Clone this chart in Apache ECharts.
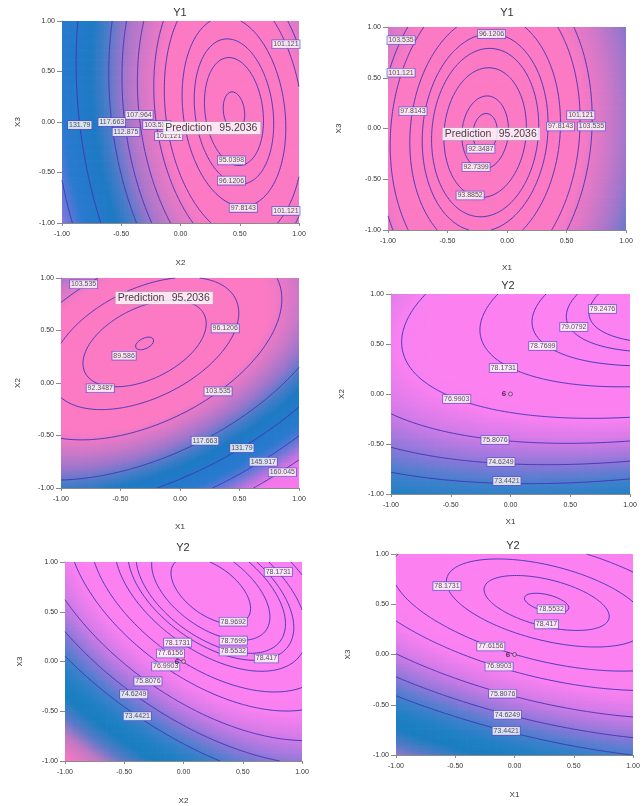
<!DOCTYPE html>
<html><head><meta charset="utf-8">
<script src="https://cdn.jsdelivr.net/npm/echarts@6/dist/echarts.min.js"></script>
<style>html,body{margin:0;padding:0;background:#fff}#c{width:644px;height:806px}</style>
</head><body><div id="c"></div>
<script>
// ---------------- DATA ----------------
const tickValues = [-1, -0.5, 0, 0.5, 1];

// Panel 1: Y1 over X2 (horizontal) and X3 (vertical)
const p1Readings = [[0.89,0.77,101.121],[-0.35,0.07,107.964],[-0.85,-0.03,131.79],[-0.58,0.0,117.663],[-0.2,-0.03,103.535],[-0.46,-0.1,112.875],[-0.1,-0.14,101.121],[0.43,-0.38,95.0398],[0.43,-0.58,96.1206],[0.53,-0.85,97.8143],[0.89,-0.88,101.121],[0.45,0.6,95.0398],[0.45,0.82,96.1206],[0.45,0.32,93.8852],[0.45,-0.11,93.8852],[0.34,0.1,93.8852],[0.56,0.1,93.8852]];
const p1Levels = [93.8852,95.0398,96.1206,97.8143,101.121,103.535,107.964,112.875,117.663,131.79,145.917];
const p1Labels = [[0.89,0.77,'101.121'],[-0.35,0.07,'107.964'],[-0.85,-0.03,'131.79'],[-0.58,0.0,'117.663'],[-0.2,-0.03,'103.535'],[-0.46,-0.1,'112.875'],[-0.1,-0.14,'101.121'],[0.43,-0.38,'95.0398'],[0.43,-0.58,'96.1206'],[0.53,-0.85,'97.8143'],[0.89,-0.88,'101.121']];
const p1Flag = [-0.145,-0.06,'95.2036'];

// Panel 2: Y1 over X1 and X3
const p2Readings = [[-0.22,-0.2,92.3487],[-0.26,-0.38,92.7399],[-0.31,-0.66,93.8852],[-0.13,0.93,96.1206],[-0.79,0.17,97.8143],[0.45,0.02,97.8143],[-0.89,0.55,101.121],[0.62,0.13,101.121],[-0.89,0.87,103.535],[0.71,0.02,103.535],[-0.18,0.13,92.3487],[-0.18,0.33,92.7399],[-0.18,0.6,93.8852]];
const p2Levels = [92.3487,92.7399,93.8852,95.0398,96.1206,97.8143,101.121,103.535];
const p2Labels = [[-0.89,0.87,'103.535'],[-0.13,0.93,'96.1206'],[-0.89,0.55,'101.121'],[-0.79,0.17,'97.8143'],[0.62,0.13,'101.121'],[0.45,0.02,'97.8143'],[0.71,0.02,'103.535'],[-0.22,-0.2,'92.3487'],[-0.26,-0.38,'92.7399'],[-0.31,-0.66,'93.8852']];
const p2Flag = [-0.54,-0.055,'95.2036'];

// Panel 3: Y1 over X1 and X2
const p3Readings = [[-0.47,0.26,89.586],[-0.45,0.27,89.586],[-0.25,0.33,89.586],[-0.35,0.37,89.586],[-0.36,0.2,89.586],[-0.67,-0.05,92.3487],[-0.85,0.15,92.3487],[0.07,0.45,92.3487],[-0.3,0.64,92.3487],[-0.45,-0.08,92.3487],[0.38,0.52,96.1206],[0.32,-0.08,103.535],[-0.81,0.94,103.535],[0.21,-0.55,117.663],[0.52,-0.62,131.79],[0.7,-0.75,145.917],[0.86,-0.85,160.045],[-1,-0.3,103.535],[1,0.75,103.535],[-1,-0.93,117.663],[1,0.18,117.663],[-0.25,-1,131.79],[1,-0.15,131.79],[0.3,-1,145.917],[1,-0.45,145.917],[0.68,-1,160.045],[1,-0.72,160.045]];
const p3Levels = [89.586,92.3487,96.1206,103.535,117.663,131.79,145.917,160.045];
const p3Labels = [[-0.81,0.94,'103.535'],[0.38,0.52,'96.1206'],[-0.47,0.26,'89.586'],[-0.67,-0.05,'92.3487'],[0.32,-0.08,'103.535'],[0.21,-0.55,'117.663'],[0.52,-0.62,'131.79'],[0.7,-0.75,'145.917'],[0.86,-0.85,'160.045']];
const p3Flag = [-0.54,0.81,'95.2036'];

// Panel 4: Y2 over X1 and X2
const p4Readings = [[0.77,0.85,79.2476],[1.0,0.58,79.2476],[0.85,1.0,79.2476],[0.53,0.67,79.0792],[1.0,0.45,79.0792],[0.5,1.0,79.0792],[0.27,0.48,78.7699],[1.0,0.3,78.7699],[0.2,1.0,78.7699],[-0.06,0.26,78.1731],[1.0,0.05,78.1731],[-0.19,1.0,78.1731],[-0.45,-0.05,76.9903],[1.0,-0.25,76.9903],[-0.68,1.0,76.9903],[-0.8,0.43,76.9903],[-0.13,-0.46,75.8076],[1.0,-0.48,75.8076],[-1,-0.2,75.8076],[-0.08,-0.68,74.6249],[1,-0.67,74.6249],[-1,-0.55,74.6249],[-0.03,-0.87,73.4421],[1,-0.85,73.4421],[-1,-0.8,73.4421]];
const p4Levels = [73.4421,74.6249,75.8076,76.9903,78.1731,78.7699,79.0792,79.2476];
const p4Labels = [[0.77,0.85,'79.2476'],[0.53,0.67,'79.0792'],[0.27,0.48,'78.7699'],[-0.06,0.26,'78.1731'],[-0.45,-0.05,'76.9903'],[-0.13,-0.46,'75.8076'],[-0.08,-0.68,'74.6249'],[-0.03,-0.87,'73.4421']];

// Panel 5: Y2 over X2 and X3
const p5Readings = [[0.8,0.9,78.1731],[0.42,0.21,78.7699],[0.42,0.1,78.5532],[0.7,0.03,78.417],[-0.05,0.19,78.1731],[-0.11,0.08,77.6156],[-0.15,-0.05,76.9903],[-0.3,-0.2,75.8076],[-0.42,-0.33,74.6249],[-0.39,-0.55,73.4421],[0.39,0.41,78.9692],[0.56,0.41,78.9692],[0.47,0.47,78.9692],[0.47,0.34,78.9692]];
const p5Levels = [73.4421,74.6249,75.8076,76.9903,77.6156,78.1731,78.417,78.5532,78.7699,78.9692];
const p5Labels = [[0.8,0.9,'78.1731'],[0.42,0.4,'78.9692'],[0.42,0.21,'78.7699'],[-0.05,0.19,'78.1731'],[0.42,0.1,'78.5532'],[-0.11,0.08,'77.6156'],[0.7,0.03,'78.417'],[-0.15,-0.05,'76.9903'],[-0.3,-0.2,'75.8076'],[-0.42,-0.33,'74.6249'],[-0.39,-0.55,'73.4421']];

// Panel 6: Y2 over X1 and X3
const p6Readings = [[-0.57,0.68,78.1731],[0.31,0.45,78.5532],[0.27,0.3,78.417],[-0.2,0.08,77.6156],[-0.13,-0.12,76.9903],[-0.1,-0.39,75.8076],[-0.06,-0.6,74.6249],[-0.07,-0.76,73.4421],[0.09,0.5,78.5532],[0.47,0.44,78.5532],[0.28,0.59,78.5532],[0.28,0.37,78.5532]];
const p6Levels = [73.4421,74.6249,75.8076,76.9903,77.6156,78.1731,78.417,78.5532];
const p6Labels = [[-0.57,0.68,'78.1731'],[0.31,0.45,'78.5532'],[0.27,0.3,'78.417'],[-0.2,0.08,'77.6156'],[-0.13,-0.12,'76.9903'],[-0.1,-0.39,'75.8076'],[-0.06,-0.6,'74.6249'],[-0.07,-0.76,'73.4421']];

const designPoint = [0, 0, '6'];

// ---------------- STYLE ----------------
const Y1_STOPS = [[80,'#fc7ac4'],[101,'#fc7ac4'],[107,'#d078c8'],[113,'#9a76cc'],[119,'#4a7cc8'],[125,'#1e7ac4'],[140,'#2a7ad0'],[148,'#6a78d8'],[155,'#b874e0'],[162,'#f078e8'],[175,'#f878ea']];
const Y2_STOPS = [[60,'#f878c0'],[66,'#f878c0'],[68,'#c078c4'],[69.5,'#5a7ac8'],[71,'#1a7ec0'],[72.2,'#2080c4'],[73.4,'#4080cc'],[74.6,'#8878d8'],[75.8,'#cc7ae6'],[76.9,'#f880f0'],[77.6,'#fc80f0'],[82,'#fc82f2']];
const LINE_COLOR = '#4536b4';
const FONT = 'Liberation Sans, Arial, sans-serif';

const panels = [
  {title:'Y1', xName:'X2', yName:'X3', readings:p1Readings, levels:p1Levels, labels:p1Labels, flag:p1Flag, stops:Y1_STOPS, grid:{left:62,top:21,width:237,height:202}, titlePos:[180,13], xGap:36, yGap:40},
  {title:'Y1', xName:'X1', yName:'X3', readings:p2Readings, levels:p2Levels, labels:p2Labels, flag:p2Flag, stops:Y1_STOPS, grid:{left:388,top:27,width:238,height:203}, titlePos:[507,13], xGap:34, yGap:45},
  {title:'', xName:'X1', yName:'X2', readings:p3Readings, levels:p3Levels, labels:p3Labels, flag:p3Flag, stops:Y1_STOPS, grid:{left:61,top:278,width:238,height:210}, titlePos:null, xGap:35, yGap:39, weighted:true},
  {title:'Y2', xName:'X1', yName:'X2', readings:p4Readings, levels:p4Levels, labels:p4Labels, flag:null, design:true, stops:Y2_STOPS, grid:{left:391,top:294,width:239,height:200}, titlePos:[508,286], xGap:24, yGap:45},
  {title:'Y2', xName:'X2', yName:'X3', readings:p5Readings, levels:p5Levels, labels:p5Labels, flag:null, design:true, stops:Y2_STOPS, grid:{left:65,top:562,width:237,height:200}, titlePos:[183,548], xGap:36, yGap:41},
  {title:'Y2', xName:'X1', yName:'X3', readings:p6Readings, levels:p6Levels, labels:p6Labels, flag:null, design:true, stops:Y2_STOPS, grid:{left:396,top:554,width:237,height:201}, titlePos:[513,546], xGap:36, yGap:44}
];

// ---------------- helpers ----------------
// least-squares quadratic response surface through the contour readings
function fitQuad(pts, weighted){
  const n=6, A=[], B=new Array(n).fill(0);
  const vmin=Math.min(...pts.map(p=>p[2]));
  for(let i=0;i<n;i++) A.push(new Array(n).fill(0));
  pts.forEach(([x,y,v])=>{
    const w=weighted?1/(v-vmin+2):1;
    const r=[1,x,y,x*x,y*y,x*y];
    for(let i=0;i<n;i++){B[i]+=w*r[i]*v;for(let k=0;k<n;k++)A[i][k]+=w*r[i]*r[k];}
  });
  for(let i=0;i<n;i++) A[i][i]+=1e-7;
  for(let c=0;c<n;c++){
    let p=c;for(let r=c+1;r<n;r++) if(Math.abs(A[r][c])>Math.abs(A[p][c])) p=r;
    [A[c],A[p]]=[A[p],A[c]];[B[c],B[p]]=[B[p],B[c]];
    for(let r=c+1;r<n;r++){const f=A[r][c]/A[c][c];for(let k=c;k<n;k++)A[r][k]-=f*A[c][k];B[r]-=f*B[c];}
  }
  const s=new Array(n).fill(0);
  for(let i=n-1;i>=0;i--){let t=B[i];for(let k=i+1;k<n;k++)t-=A[i][k]*s[k];s[i]=t/A[i][i];}
  return (x,y)=>s[0]+s[1]*x+s[2]*y+s[3]*x*x+s[4]*y*y+s[5]*x*y;
}
function hex(c){return [parseInt(c.slice(1,3),16),parseInt(c.slice(3,5),16),parseInt(c.slice(5,7),16)];}
function colorOf(stops,v){
  if(v<=stops[0][0]) return stops[0][1];
  for(let i=1;i<stops.length;i++){
    if(v<=stops[i][0]){
      const t=(v-stops[i-1][0])/(stops[i][0]-stops[i-1][0]);
      const a=hex(stops[i-1][1]), b=hex(stops[i][1]);
      return 'rgb('+a.map((q,k)=>Math.round(q+(b[k]-q)*t)).join(',')+')';
    }
  }
  return stops[stops.length-1][1];
}
// marching squares, chained into polylines via shared edge ids
function contourPaths(f,levels,n){
  const xs=[];for(let i=0;i<=n;i++) xs.push(-1+2*i/n);
  const V=[];for(let j=0;j<=n;j++){V.push([]);for(let i=0;i<=n;i++)V[j].push(f(xs[i],xs[j]));}
  const paths=[];
  levels.forEach(L=>{
    const pts=new Map();
    const hId=(i,j)=>{const id='h'+i+'_'+j;if(!pts.has(id)){const a=V[j][i],b=V[j][i+1];if((a<L)===(b<L))return null;const t=(L-a)/(b-a);pts.set(id,[xs[i]+t*(xs[i+1]-xs[i]),xs[j]]);}return id;};
    const vId=(i,j)=>{const id='v'+i+'_'+j;if(!pts.has(id)){const a=V[j][i],b=V[j+1][i];if((a<L)===(b<L))return null;const t=(L-a)/(b-a);pts.set(id,[xs[i],xs[j]+t*(xs[j+1]-xs[j])]);}return id;};
    const segs=[];
    for(let j=0;j<n;j++)for(let i=0;i<n;i++){
      const ids=[hId(i,j),vId(i+1,j),hId(i,j+1),vId(i,j)].filter(Boolean);
      if(ids.length===2) segs.push(ids);
      else if(ids.length===4){segs.push([ids[0],ids[1]]);segs.push([ids[2],ids[3]]);}
    }
    const adj=new Map();
    segs.forEach((s,k)=>s.forEach(id=>{if(!adj.has(id))adj.set(id,[]);adj.get(id).push(k);}));
    const used=new Array(segs.length).fill(false);
    const next=(id)=>{const l=adj.get(id)||[];for(const k of l){if(!used[k]){used[k]=true;const s=segs[k];return s[0]===id?s[1]:s[0];}}return null;};
    for(let k=0;k<segs.length;k++){
      if(used[k]) continue;
      used[k]=true;
      const chain=[segs[k][0],segs[k][1]];
      let nx;
      while((nx=next(chain[chain.length-1]))!==null) chain.push(nx);
      while((nx=next(chain[0]))!==null) chain.unshift(nx);
      paths.push({coords:chain.map(id=>pts.get(id))});
    }
  });
  return paths;
}

// ---------------- build option ----------------
const grids=[],xAxes=[],yAxes=[],series=[],graphics=[];
const N=90, H=1/N;
panels.forEach((p,k)=>{
  const f=fitQuad(p.readings,p.weighted);
  grids.push(Object.assign({containLabel:false,show:false},p.grid));
  xAxes.push({gridIndex:k,type:'value',min:-1,max:1,interval:0.5,name:p.xName,nameLocation:'middle',nameGap:p.xGap,
    nameTextStyle:{fontSize:8,color:'#333',fontFamily:FONT},axisPointer:{show:false},
    axisLine:{show:true,onZero:false,lineStyle:{color:'#8a8a8a',width:1}},axisTick:{show:true,length:3,lineStyle:{color:'#8a8a8a'}},
    splitLine:{show:false},axisLabel:{fontSize:7,color:'#333',margin:8,fontFamily:FONT,formatter:v=>v.toFixed(2)}});
  yAxes.push({gridIndex:k,type:'value',min:-1,max:1,interval:0.5,name:p.yName,nameLocation:'middle',nameGap:p.yGap,nameRotate:90,
    nameTextStyle:{fontSize:8,color:'#333',fontFamily:FONT},axisPointer:{show:false},
    axisLine:{show:true,onZero:false,lineStyle:{color:'#8a8a8a',width:1}},axisTick:{show:true,length:5,lineStyle:{color:'#8a8a8a'}},
    splitLine:{show:false},axisLabel:{fontSize:7,color:'#333',margin:7,fontFamily:FONT,formatter:v=>v.toFixed(2)}});
  const cells=[];
  for(let j=0;j<N;j++)for(let i=0;i<N;i++){const x=-1+(2*i+1)/N,y=-1+(2*j+1)/N;cells.push([x,y,f(x,y)]);}
  const stops=p.stops;
  series.push({type:'custom',xAxisIndex:k,yAxisIndex:k,clip:true,z:1,silent:true,progressive:0,progressiveThreshold:1e9,data:cells,
    renderItem:(params,api)=>{
      const x=api.value(0),y=api.value(1),v=api.value(2);
      const a=api.coord([x-H,y+H]),b=api.coord([x+H,y-H]);
      return {type:'rect',shape:{x:a[0],y:a[1],width:b[0]-a[0]+0.7,height:b[1]-a[1]+0.7},style:{fill:colorOf(stops,v)}};
    }});
  series.push({type:'lines',coordinateSystem:'cartesian2d',xAxisIndex:k,yAxisIndex:k,z:3,silent:true,polyline:true,large:false,
    progressive:0,symbol:['none','none'],
    lineStyle:{color:LINE_COLOR,width:1,opacity:0.95},data:contourPaths(f,p.levels,120)});
  series.push({type:'scatter',xAxisIndex:k,yAxisIndex:k,z:5,silent:true,symbolSize:0.1,itemStyle:{color:'rgba(0,0,0,0)'},
    data:p.labels.map(l=>({value:[l[0],l[1]],name:l[2]})),
    label:{show:true,position:'inside',formatter:'{b}',fontSize:7,color:'#2a2a2a',fontFamily:FONT,backgroundColor:'#ffffff',
      borderColor:'#5a4cc8',borderWidth:0.8,padding:[1,1,0,1]}});
  if(p.flag){
    series.push({type:'scatter',xAxisIndex:k,yAxisIndex:k,z:8,silent:true,symbolSize:0.1,itemStyle:{color:'rgba(0,0,0,0)'},
      data:[{value:[p.flag[0],p.flag[1]],name:p.flag[2]}],
      label:{show:true,position:'inside',align:'left',verticalAlign:'middle',formatter:'{a|Prediction}{b|{b}}',backgroundColor:'#ffffff',
        borderColor:'#b0b0b0',borderWidth:0.6,padding:[1,3,0,2],
        rich:{a:{fontSize:10.5,color:'#111',fontFamily:FONT,width:58},b:{fontSize:10.5,color:'#111',fontFamily:FONT,width:34,align:'right'}}}});
  }
  if(p.design){
    series.push({type:'scatter',xAxisIndex:k,yAxisIndex:k,z:7,silent:true,symbol:'circle',symbolSize:4,
      itemStyle:{color:'#f0a0f0',borderColor:'#333',borderWidth:0.8},
      data:[{value:[designPoint[0],designPoint[1]],name:designPoint[2]}],
      label:{show:true,position:'left',distance:2,formatter:'{b}',fontSize:8,fontWeight:'bold',color:'#2a1030',fontFamily:FONT}});
  }
  if(p.titlePos){
    graphics.push({type:'text',x:p.titlePos[0],y:p.titlePos[1],style:{text:p.title,fontSize:11,fill:'#333',font:'11px '+FONT,textAlign:'center',textVerticalAlign:'middle'}});
  }
});

const chart=echarts.init(document.getElementById('c'),null,{renderer:'canvas'});
chart.setOption({animation:false,backgroundColor:'#ffffff',grid:grids,xAxis:xAxes,yAxis:yAxes,series:series,graphic:graphics});
</script>
</body></html>
